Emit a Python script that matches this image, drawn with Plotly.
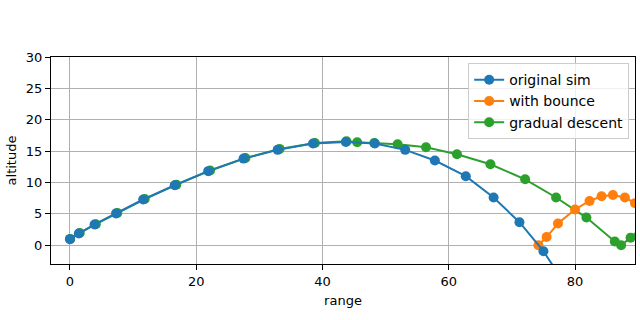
import plotly.graph_objects as go

# original sim
orig_x = [0.0, 1.4, 3.9, 7.3, 11.6, 16.6, 21.9, 27.5, 32.9, 38.5, 43.7, 48.3, 53.1, 57.8, 62.7, 67.1, 71.2, 75.0, 78.6]
orig_y = [0.96, 1.86, 3.3, 5.05, 7.28, 9.55, 11.8, 13.8, 15.2, 16.2, 16.45, 16.2, 15.2, 13.5, 11.0, 7.6, 3.66, -0.96, -6.5]

# with bounce
bounce_x = [74.2, 75.5, 77.3, 80.0, 82.3, 84.2, 86.0, 87.9, 89.5, 91.2]
bounce_y = [0.0, 1.3, 3.45, 5.7, 7.05, 7.8, 8.0, 7.6, 6.7, 5.4]

# gradual descent
grad_x = [0.05, 1.55, 4.1, 7.5, 11.85, 16.85, 22.2, 27.8, 33.2, 38.8, 43.8, 45.5, 48.2, 51.9, 56.4, 61.3, 66.6, 72.1, 77.0, 81.8, 86.3, 87.3, 88.8, 90.5]
grad_y = [1.0, 1.95, 3.35, 5.15, 7.35, 9.65, 11.9, 13.9, 15.35, 16.3, 16.55, 16.4, 16.3, 16.1, 15.6, 14.5, 12.9, 10.5, 7.6, 4.4, 0.6, 0.0, 1.2, 2.8]

xticks = [0, 20, 40, 60, 80]
yticks = [0, 5, 10, 15, 20, 25, 30]

BLUE = "#1f77b4"
ORANGE = "#ff7f0e"
GREEN = "#2ca02c"

fig = go.Figure()
fig.add_trace(go.Scatter(x=grad_x, y=grad_y, mode="lines+markers", name="gradual descent",
                         line=dict(color=GREEN, width=2), marker=dict(size=10, color=GREEN),
                         legendrank=3))
fig.add_trace(go.Scatter(x=bounce_x, y=bounce_y, mode="lines+markers", name="with bounce",
                         line=dict(color=ORANGE, width=2), marker=dict(size=10, color=ORANGE),
                         legendrank=2))
fig.add_trace(go.Scatter(x=orig_x, y=orig_y, mode="lines+markers", name="original sim",
                         line=dict(color=BLUE, width=2), marker=dict(size=10, color=BLUE),
                         legendrank=1))

axis_common = dict(showgrid=True, gridcolor="#b0b0b0", gridwidth=1, zeroline=False,
                   showline=True, linecolor="black", linewidth=1, mirror=True,
                   ticks="outside", ticklen=5, tickcolor="black", automargin=False,
                   tickfont=dict(size=13, color="black"))

fig.update_layout(
    width=640, height=320,
    margin=dict(l=51, r=5, t=57, b=56),
    paper_bgcolor="white", plot_bgcolor="white",
    font=dict(family="DejaVu Sans", size=13, color="black"),
    xaxis=dict(range=[-3, 89.5], tickvals=xticks,
               title=dict(text="range", font=dict(size=13), standoff=8), **axis_common),
    yaxis=dict(range=[-3, 30], tickvals=yticks,
               title=dict(text="altitude", font=dict(size=13), standoff=6), **axis_common),
    legend=dict(x=0.99, y=0.97, xanchor="right", yanchor="top", bgcolor="rgba(255,255,255,0.8)",
                bordercolor="#cccccc", borderwidth=1, font=dict(size=14), tracegroupgap=0,
                itemwidth=30),
    showlegend=True,
)

fig.write_html("out.html", config={"displayModeBar": False},
               post_script="document.body.style.margin='0';document.body.style.padding='0';")
